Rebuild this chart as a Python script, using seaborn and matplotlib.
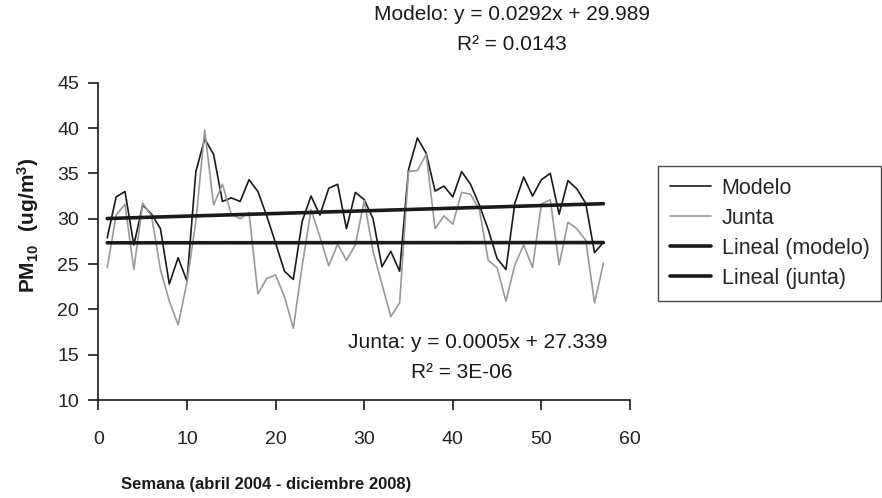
import numpy as np
import pandas as pd
import matplotlib
matplotlib.use("Agg")
import matplotlib.pyplot as plt
import seaborn as sns

# ---- data ----
semana = list(range(1, 58))
modelo = [27.9, 32.4, 33.0, 27.1, 31.5, 30.5, 28.9, 22.8, 25.7, 23.1,
          35.2, 38.8, 37.1, 31.9, 32.3, 31.9, 34.3, 33.0, 30.3, 27.3,
          24.2, 23.3, 29.7, 32.5, 30.4, 33.35, 33.8, 28.9, 32.9, 32.1,
          30.0, 24.7, 26.4, 24.2, 35.4, 38.9, 37.2, 33.05, 33.6, 32.4,
          35.2, 33.8, 31.5, 28.8, 25.6, 24.4, 31.7, 34.6, 32.5, 34.3,
          35.0, 30.5, 34.2, 33.3, 31.7, 26.25, 27.4]
junta = [24.6, 30.4, 31.6, 24.4, 31.7, 30.3, 24.4, 20.9, 18.3, 23.0,
         29.7, 39.8, 31.5, 33.8, 30.5, 30.0, 30.7, 21.7, 23.4, 23.8,
         21.4, 17.9, 24.8, 31.0, 28.0, 24.8, 27.2, 25.4, 27.1, 32.0,
         26.4, 22.8, 19.2, 20.7, 35.2, 35.3, 37.1, 28.9, 30.3, 29.4,
         32.9, 32.7, 31.0, 25.4, 24.6, 20.9, 24.9, 27.1, 24.6, 31.6,
         32.1, 24.9, 29.6, 28.9, 27.6, 20.7, 25.1]
trend_slope = {"modelo": 0.0292, "junta": 0.0005}
trend_intercept = {"modelo": 29.989, "junta": 27.339}
y_ticks = [10, 15, 20, 25, 30, 35, 40, 45]
x_ticks = [0, 10, 20, 30, 40, 50, 60]

sns.set_style("white")
plt.rcParams["font.family"] = ["Liberation Sans", "DejaVu Sans"]
plt.rcParams["mathtext.fontset"] = "custom"
plt.rcParams["mathtext.rm"] = "Liberation Sans"
plt.rcParams["mathtext.bf"] = "Liberation Sans:bold"

W, H = 882, 498
fig = plt.figure(figsize=(W / 100, H / 100), dpi=100)
ax = fig.add_axes([98.4 / W, 1 - 400 / H, (630 - 98.4) / W, (400 - 82.7) / H])

x = np.array(semana)
df = pd.DataFrame({"Semana": semana, "Modelo": modelo, "Junta": junta})
df["Lineal (modelo)"] = trend_intercept["modelo"] + trend_slope["modelo"] * x
df["Lineal (junta)"] = trend_intercept["junta"] + trend_slope["junta"] * x

sns.lineplot(data=df, x="Semana", y="Modelo", ax=ax, color="#1a1a1a", lw=1.2, label="Modelo")
sns.lineplot(data=df, x="Semana", y="Junta", ax=ax, color="#999999", lw=1.2, label="Junta")
sns.lineplot(data=df, x="Semana", y="Lineal (modelo)", ax=ax, color="#1a1a1a", lw=2.6,
             label="Lineal (modelo)")
sns.lineplot(data=df, x="Semana", y="Lineal (junta)", ax=ax, color="#1a1a1a", lw=2.6,
             label="Lineal (junta)")

ax.set_xlim(0, 60)
ax.set_ylim(10, 45)
ax.set_xticks(x_ticks)
ax.set_yticks(y_ticks)
for s in ["top", "right"]:
    ax.spines[s].set_visible(False)
for s in ["left", "bottom"]:
    ax.spines[s].set_color("#1a1a1a")
    ax.spines[s].set_linewidth(1.2)
ax.tick_params(axis="both", direction="out", length=7, width=1.2, color="#1a1a1a",
               labelsize=14, labelcolor="#222222", left=True, bottom=True)
ax.tick_params(axis="x", pad=15)
ax.tick_params(axis="y", pad=7)
ax.set_xlabel("")
ax.set_ylabel("")

fig.text(266 / W, 1 - 484 / H, "Semana (abril 2004 - diciembre 2008)", ha="center", va="center",
         fontsize=12, fontweight="bold", color="#1a1a1a")
fig.text(28 / W, 1 - 225 / H, r"$\mathbf{PM_{10}\ \ (ug/m^3)}$", ha="center", va="center",
         rotation=90, fontsize=15, color="#1a1a1a")

fig.text(512 / W, 1 - 15 / H, "Modelo: y = 0.0292x + 29.989", ha="center", va="center",
         fontsize=15, color="#1a1a1a")
fig.text(512 / W, 1 - 45 / H, "R² = 0.0143", ha="center", va="center",
         fontsize=15, color="#1a1a1a")
fig.text(478 / W, 1 - 342 / H, "Junta: y = 0.0005x + 27.339", ha="center", va="center",
         fontsize=15, color="#1a1a1a")
fig.text(462 / W, 1 - 372 / H, "R² = 3E-06", ha="center", va="center",
         fontsize=15, color="#1a1a1a")

leg = ax.legend(loc="upper left", bbox_to_anchor=(658 / W, 1 - 166 / H),
                bbox_transform=fig.transFigure, frameon=True, fancybox=False,
                edgecolor="#1a1a1a", fontsize=15.5, handlelength=1.9, handletextpad=0.5,
                labelspacing=0.42, borderpad=0.55, borderaxespad=0)
leg.get_frame().set_linewidth(1.0)

fig.savefig("out.png", dpi=100)
